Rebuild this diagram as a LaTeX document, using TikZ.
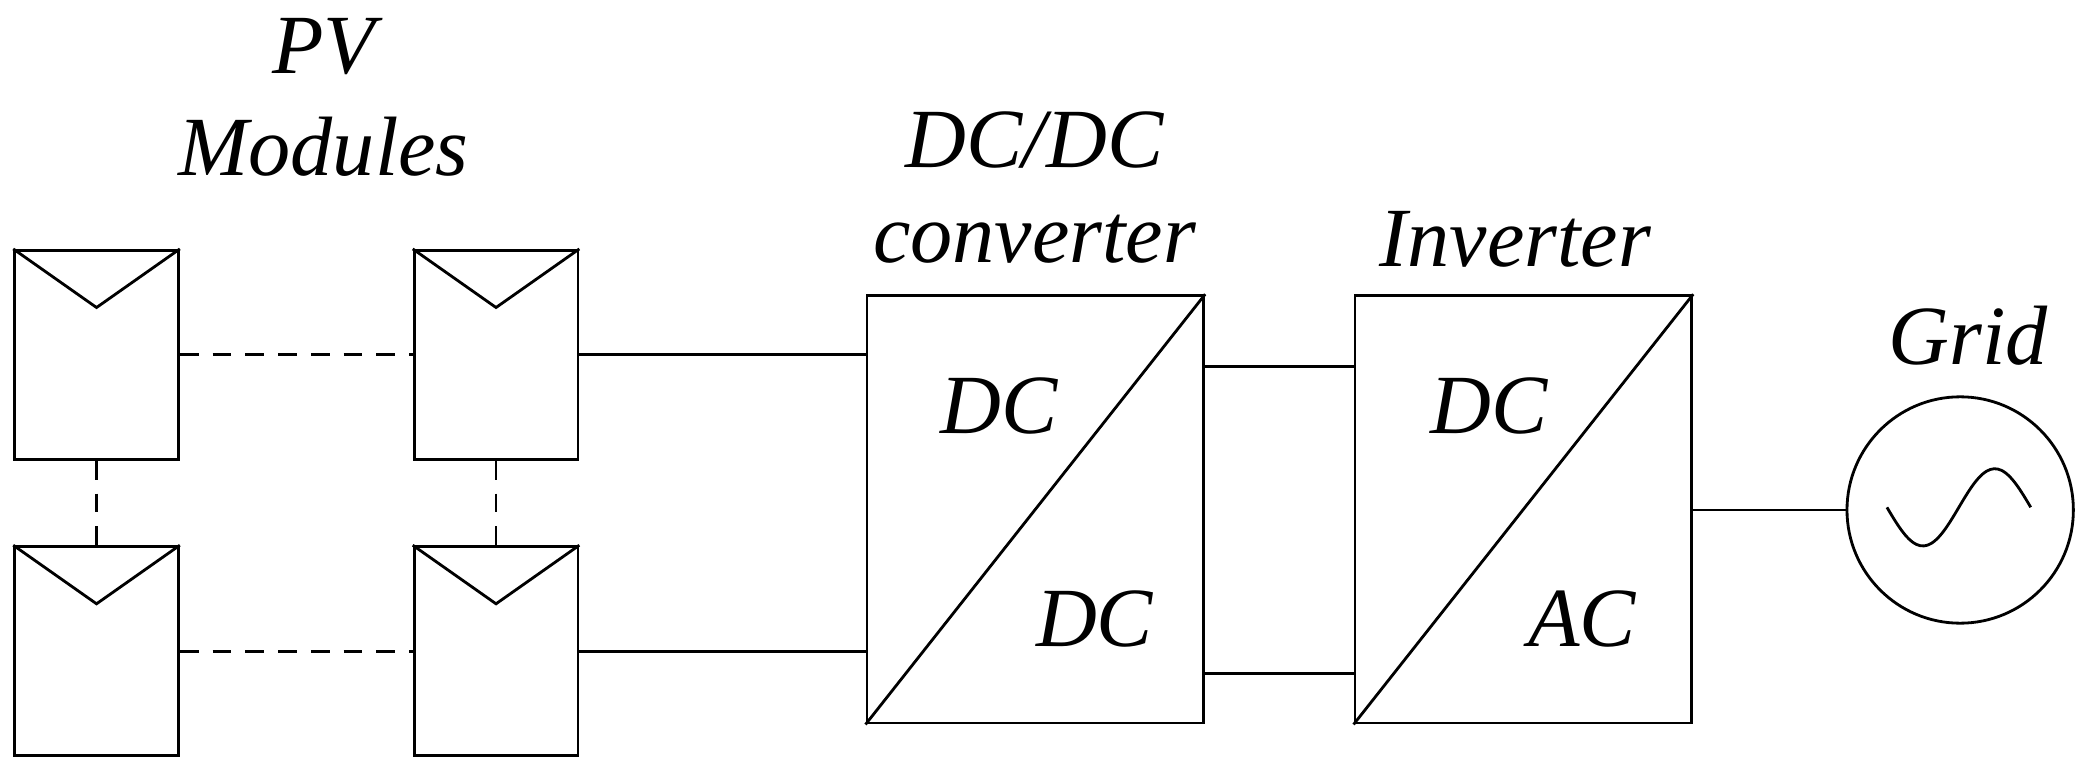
\documentclass[tikz,border=0pt]{standalone}
\usepackage{fontspec}
\setmainfont{Liberation Serif}
\usetikzlibrary{positioning}
\begin{document}
\begin{tikzpicture}[
		line width=0.6pt,
		every node/.style={font=\fontsize{18}{21}\selectfont\itshape},
		module/.style={draw, minimum width=1.23cm, minimum height=1.57cm, inner sep=0pt},
		conv/.style={draw, minimum width=2.53cm, minimum height=3.21cm, inner sep=0pt},
		link/.style={densely dashed, dash pattern=on 4pt off 3pt}
	]
	\useasboundingbox (0,0) rectangle (15.68,5.81);

	% PV modules
	\node[module] (m11) at (0.725,3.145) {};
	\node[module] (m12) at (3.725,3.145) {};
	\node[module] (m21) at (0.725,0.920) {};
	\node[module] (m22) at (3.725,0.920) {};
	\foreach \m in {m11,m12,m21,m22} {
			\draw (\m.north west) -- ([yshift=-0.44cm]\m.north) -- (\m.north east);
		}

	% links between modules
	\draw[link] (m11.east) -- (m12.west);
	\draw[link] (m21.east) -- (m22.west);
	\draw[link] (m11.south) -- (m21.north);
	\draw[link] (m12.south) -- (m22.north);

	% converters
	\node[conv] (dcdc) at (7.775,1.985) {};
	\node[conv] (inv) at (11.44,1.985) {};
	\draw (dcdc.south west) -- (dcdc.north east);
	\draw (inv.south west) -- (inv.north east);
	\node at (7.50,2.76) {DC};
	\node at (8.22,1.16) {DC};
	\node at (11.18,2.76) {DC};
	\node at (11.88,1.16) {AC};

	% grid
	\node[draw, circle, minimum size=1.70cm] (grid) at (14.72,1.98) {};
	\draw[shift={(grid.center)}, domain=0:1, samples=40, smooth]
		plot ({-0.55+1.08*\x}, {0.02-0.29*sin(360*\x)});
	\draw[shift={(grid.center)}, domain=0:1, samples=2] plot (\x,0) [opacity=0];

	% wires
	\draw (m12.east) -- (m12.east -| dcdc.west);
	\draw (m22.east) -- (m22.east -| dcdc.west);
	\draw ([yshift=-0.54cm]dcdc.north east) -- ([yshift=-0.54cm]inv.north west);
	\draw ([yshift=0.38cm]dcdc.south east) -- ([yshift=0.38cm]inv.south west);
	\draw (inv.east |- grid.west) -- (grid.west);

	% labels
	\node at (2.43,5.46) {PV};
	\node at (2.43,4.71) {Modules};
	\node at (7.77,4.76) {DC/DC};
	\node at (7.77,4.01) {converter};
	\node at (11.38,4.01) {Inverter};
	\node at (14.78,3.29) {Grid};
\end{tikzpicture}
\end{document}
